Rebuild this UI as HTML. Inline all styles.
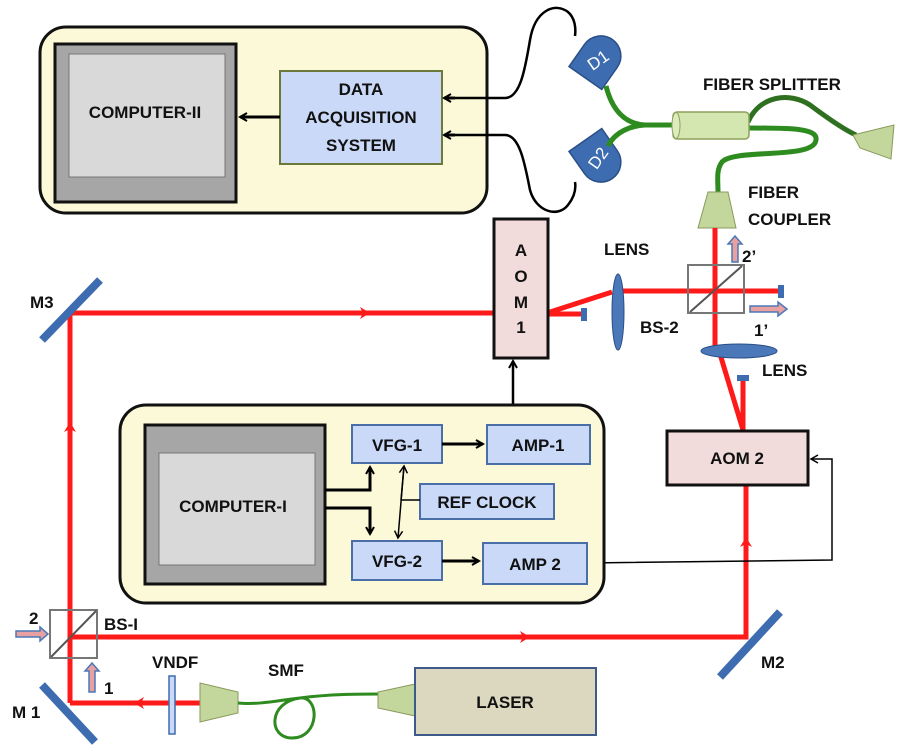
<!DOCTYPE html>
<html><head><meta charset="utf-8"><style>
body{margin:0;background:#fff}
text{font-family:"Liberation Sans",sans-serif;font-size:17px;fill:#111;font-weight:bold}
</style></head><body>
<svg width="903" height="751" viewBox="0 0 903 751" xmlns="http://www.w3.org/2000/svg">
<defs>
<marker id="ab" markerWidth="10" markerHeight="10" refX="8" refY="5" orient="auto" markerUnits="userSpaceOnUse"><path d="M1,1 L8,5 L1,9" fill="none" stroke="#000" stroke-width="2"/></marker>
<marker id="abt" markerWidth="10" markerHeight="10" refX="8" refY="5" orient="auto" markerUnits="userSpaceOnUse"><path d="M1,1 L8,5 L1,9" fill="none" stroke="#000" stroke-width="1.5"/></marker>
</defs>
<!-- top box -->
<rect x="40" y="27" width="447" height="186" rx="26" fill="#fbf9d8" stroke="#111" stroke-width="3"/>
<rect x="55" y="44" width="181" height="158" fill="#a6a6a6" stroke="#111" stroke-width="3"/>
<rect x="69" y="54" width="156" height="123" fill="#d9d9d9" stroke="#777" stroke-width="1"/>
<text x="145" y="118" text-anchor="middle" font-size="18">COMPUTER-II</text>
<rect x="280" y="71" width="162" height="93" fill="#c9d9f7" stroke="#6b7a3a" stroke-width="2"/>
<text x="361" y="95" text-anchor="middle" font-size="18">DATA</text>
<text x="361" y="123" text-anchor="middle" font-size="18">ACQUISITION</text>
<text x="361" y="151" text-anchor="middle" font-size="18">SYSTEM</text>
<line x1="280" y1="117" x2="240" y2="117" stroke="#000" stroke-width="3" marker-end="url(#ab)"/>
<!-- black wires -->
<path d="M444,98 L505,98 C520,98 525,70 530,40 C535,10 555,2 568,12 C575,18 576,28 575,36" fill="none" stroke="#000" stroke-width="2.5"/>
<path d="M444,98 L455,98" stroke="#000" stroke-width="3" marker-end="url(#ab)" transform="rotate(180 449.5 98)"/>
<path d="M444,135 L505,135 C520,135 525,165 530,190 C536,212 558,218 568,205 C575,196 576,188 575,182" fill="none" stroke="#000" stroke-width="2.5"/>
<path d="M444,135 L455,135" stroke="#000" stroke-width="3" marker-end="url(#ab)" transform="rotate(180 449.5 135)"/>
<!-- detectors -->
<g transform="translate(598,60) rotate(35)"><path d="M-20,22 L-20,-5 A20,20 0 0 1 20,-5 L20,22 Z" fill="#3d6cb0" stroke="#2a4f86" stroke-width="1.5"/></g>
<text x="598" y="66" text-anchor="middle" transform="rotate(-35 598 60)" style="fill:#fff;font-weight:normal" font-size="15">D1</text>
<g transform="translate(598,158) rotate(145)"><path d="M-20,22 L-20,-5 A20,20 0 0 1 20,-5 L20,22 Z" fill="#3d6cb0" stroke="#2a4f86" stroke-width="1.5"/></g>
<text x="598" y="164" text-anchor="middle" transform="rotate(-55 598 158)" style="fill:#fff;font-weight:normal" font-size="15">D2</text>
<!-- green fibers -->
<g fill="none" stroke="#2e8b1f" stroke-width="5">
<path d="M606,86 C612,110 625,124 645,125 L673,125"/>
<path d="M608,146 C615,132 630,126 645,125"/>
<path d="M748,122 C760,95 790,92 810,105 C830,120 845,130 856,135" stroke="#2f7020"/>
<path d="M748,128 C790,128 818,128 816,140 C814,160 735,148 722,162 C716,170 718,180 718,192"/>
</g>
<rect x="673" y="112" width="76" height="27" rx="4" fill="#d4e7b0" stroke="#8da15a" stroke-width="1.5"/>
<ellipse cx="676" cy="125.5" rx="4" ry="13" fill="#dcecbf" stroke="#8da15a"/>
<polygon points="853,135 894,125 891,159 860,148" fill="#c3d69b" stroke="#8a9a5b"/>
<polygon points="708,192 728,192 736,228 698,228" fill="#c3d69b" stroke="#8a9a5b"/>
<text x="703" y="90">FIBER SPLITTER</text>
<text x="748" y="198">FIBER</text>
<text x="748" y="225">COUPLER</text>
<!-- red beams -->
<g stroke="#ff1a1a" stroke-width="5" fill="none">
<polyline points="70,703 70,313 494,313"/>
<path d="M547,313 L612,292 M620,291 L780,291 M547,314 L583,314"/>
<path d="M715,228 L715,350 M720,354 L743,430 M743,380 L743,431"/>
<path d="M746,485 L746,637 L70,637"/>
<path d="M70,703 L200,703"/>
</g>
<g fill="#ff1a1a">
<polygon points="360,307 370,313 360,319 363,313"/>
<polygon points="520,631 530,637 520,643 523,637"/>
<polygon points="64,432 70,422 76,432 70,429"/>
<polygon points="740,547 746,537 752,547 746,544"/>
<polygon points="144,697 134,703 144,709 141,703"/>
</g>
<!-- stubs -->
<rect x="581" y="308" width="6" height="13" fill="#3d6cb0"/>
<rect x="778" y="285" width="6" height="13" fill="#3d6cb0"/>
<rect x="737" y="375" width="12" height="6" fill="#3d6cb0"/>
<!-- lenses -->
<ellipse cx="618" cy="312" rx="6" ry="38" fill="#4a78b8" stroke="#2a4f86"/>
<ellipse cx="739" cy="351" rx="38" ry="7" fill="#4a78b8" stroke="#2a4f86"/>
<text x="604" y="255">LENS</text>
<text x="762" y="376">LENS</text>
<!-- BS-2 -->
<rect x="688" y="265" width="56" height="48" fill="none" stroke="#777" stroke-width="2"/>
<line x1="690" y1="312" x2="742" y2="266" stroke="#555" stroke-width="2"/>
<text x="640" y="333">BS-2</text>
<polygon points="732,262 732,244 728,244 735,236 742,244 738,244 738,262" fill="#e8a0a0" stroke="#4a78b8" stroke-width="1.5"/>
<text x="742" y="262">2’</text>
<polygon points="750,306 778,306 778,302 787,309 778,316 778,312 750,312" fill="#e8a0a0" stroke="#4a78b8" stroke-width="1.5"/>
<text x="754" y="336">1’</text>
<!-- AOM1 -->
<rect x="494" y="219" width="54" height="139" fill="#f2dcdb" stroke="#111" stroke-width="3"/>
<text x="521" y="256" text-anchor="middle">A</text>
<text x="521" y="282" text-anchor="middle">O</text>
<text x="521" y="308" text-anchor="middle">M</text>
<text x="521" y="333" text-anchor="middle">1</text>
<line x1="513" y1="425" x2="513" y2="361" stroke="#000" stroke-width="2.5" marker-end="url(#ab)"/>
<!-- AOM2 -->
<rect x="667" y="431" width="141" height="54" fill="#f2dcdb" stroke="#111" stroke-width="3"/>
<text x="737" y="464" text-anchor="middle" font-size="18">AOM 2</text>
<polyline points="587,563 832,560 832,459 811,459" fill="none" stroke="#000" stroke-width="1.5" marker-end="url(#abt)"/>
<!-- bottom box -->
<rect x="120" y="405" width="484" height="198" rx="26" fill="#fbf9d8" stroke="#111" stroke-width="3"/>
<rect x="145" y="425" width="180" height="159" fill="#a6a6a6" stroke="#111" stroke-width="3"/>
<rect x="159" y="453" width="156" height="112" fill="#d9d9d9" stroke="#777"/>
<text x="233" y="512" text-anchor="middle" font-size="18">COMPUTER-I</text>
<rect x="352" y="425" width="90" height="38" fill="#c9d9f7" stroke="#4a6ea8" stroke-width="2"/>
<text x="397" y="451" text-anchor="middle" font-size="18">VFG-1</text>
<rect x="487" y="425" width="103" height="39" fill="#c9d9f7" stroke="#4a6ea8" stroke-width="2"/>
<text x="538" y="451" text-anchor="middle" font-size="18">AMP-1</text>
<rect x="420" y="484" width="134" height="35" fill="#c9d9f7" stroke="#4a6ea8" stroke-width="2"/>
<text x="487" y="508" text-anchor="middle" font-size="18">REF CLOCK</text>
<rect x="352" y="541" width="90" height="39" fill="#c9d9f7" stroke="#4a6ea8" stroke-width="2"/>
<text x="397" y="567" text-anchor="middle" font-size="18">VFG-2</text>
<rect x="483" y="543" width="104" height="41" fill="#c9d9f7" stroke="#4a6ea8" stroke-width="2"/>
<text x="535" y="570" text-anchor="middle" font-size="18">AMP 2</text>
<g stroke="#000" fill="none">
<line x1="442" y1="444" x2="483" y2="444" stroke-width="3" marker-end="url(#ab)"/>
<line x1="442" y1="561" x2="479" y2="561" stroke-width="3" marker-end="url(#ab)"/>
<polyline points="325,490 370,490 370,467" stroke-width="3" marker-end="url(#ab)"/>
<polyline points="325,508 370,508 370,534" stroke-width="3" marker-end="url(#ab)"/>
<line x1="404" y1="466" x2="398" y2="538" stroke-width="1.5" marker-end="url(#abt)"/>
<line x1="401" y1="500" x2="404" y2="466" stroke-width="1.5" marker-end="url(#abt)"/>
<line x1="401" y1="500" x2="420" y2="500" stroke-width="1.5"/>
</g>
<!-- mirrors -->
<line x1="42" y1="340" x2="100" y2="280" stroke="#3d6cb0" stroke-width="8"/>
<line x1="42" y1="685" x2="95" y2="742" stroke="#3d6cb0" stroke-width="8"/>
<line x1="720" y1="677" x2="780" y2="612" stroke="#3d6cb0" stroke-width="8"/>
<text x="30" y="308">M3</text>
<text x="12" y="718">M 1</text>
<text x="761" y="668">M2</text>
<!-- BS-I -->
<rect x="50" y="610" width="47" height="48" fill="none" stroke="#777" stroke-width="2"/>
<line x1="51" y1="657" x2="96" y2="611" stroke="#555" stroke-width="2"/>
<text x="104" y="630">BS-I</text>
<polygon points="16,631 40,631 40,627 48,634 40,641 40,637 16,637" fill="#e8a0a0" stroke="#4a78b8" stroke-width="1.5"/>
<text x="29" y="624">2</text>
<polygon points="89,692 89,671 85,671 92,663 99,671 95,671 95,692" fill="#e8a0a0" stroke="#4a78b8" stroke-width="1.5"/>
<text x="104" y="694">1</text>
<!-- VNDF, SMF, laser -->
<rect x="169" y="676" width="6" height="58" fill="#c9d9f7" stroke="#3d6cb0" stroke-width="1.5"/>
<text x="152" y="668">VNDF</text>
<polygon points="200,683 238,692 238,713 200,722" fill="#c3d69b" stroke="#8a9a5b"/>
<path d="M238,703 C260,705 280,700 300,698 C320,696 320,738 292,738 C268,738 268,702 300,698 C330,694 360,694 380,694" fill="none" stroke="#2e8b1f" stroke-width="3"/>
<text x="268" y="676">SMF</text>
<polygon points="378,692 415,684 415,716 378,708" fill="#c3d69b" stroke="#8a9a5b"/>
<rect x="415" y="668" width="181" height="67" fill="#dcd8c0" stroke="#3d5a8a" stroke-width="2"/>
<text x="505" y="708" text-anchor="middle" font-size="19">LASER</text>
</svg>
</body></html>
